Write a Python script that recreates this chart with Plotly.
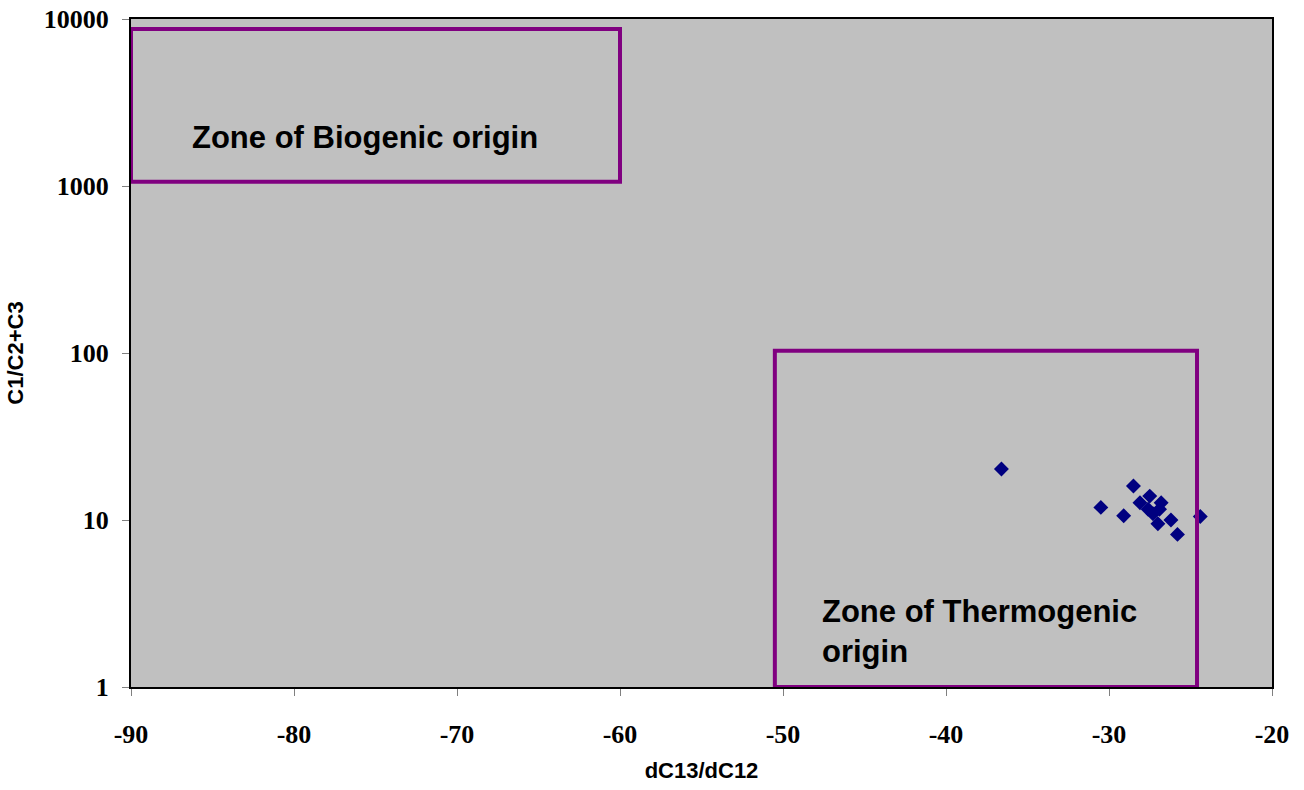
import plotly.graph_objects as go

# Data points (dC13/dC12 vs C1/C2+C3)
x_vals = [-36.6, -28.5, -30.5, -29.1, -28.1, -27.5, -27.6, -27.3, -26.8, -26.9, -27.0, -26.2, -25.8, -24.4]
y_vals = [20.2, 16.0, 11.9, 10.6, 12.7, 13.9, 11.6, 10.9, 12.7, 11.6, 9.5, 10.0, 8.2, 10.5]

x_ticks = [-90, -80, -70, -60, -50, -40, -30, -20]
y_ticks = [1, 10, 100, 1000, 10000]
y_tick_text = ["1", "10", "100", "1000", "10000"]

# Zone boxes: (x0, x1, y0, y1)
bio_box = (-90, -60, 1060, 8700)
thermo_box = (-50.5, -24.6, 1, 103)

fig = go.Figure()
fig.add_trace(go.Scatter(
    x=x_vals, y=y_vals, mode="markers",
    marker=dict(symbol="diamond", size=11.5, color="#000080"),
    showlegend=False, cliponaxis=False,
))

for (x0, x1, y0, y1) in [bio_box, thermo_box]:
    fig.add_shape(type="rect", x0=x0, x1=x1, y0=y0, y1=y1, xref="x", yref="y",
                  line=dict(color="#800080", width=4), layer="above")

fig.add_annotation(x=-86.4, y=3.29, xref="x", yref="y", text="Zone of Biogenic origin",
                   showarrow=False, xanchor="left", yanchor="middle",
                   font=dict(family="Liberation Sans, Arial", size=31, color="black", weight="bold"))
fig.add_annotation(x=-47.75, y=0.33, xref="x", yref="y", text="Zone of Thermogenic<br>origin",
                   showarrow=False, xanchor="left", yanchor="middle", align="left",
                   font=dict(family="Liberation Sans, Arial", size=31, color="black", weight="bold"))

fig.update_layout(
    width=1304, height=790,
    margin=dict(l=131, r=32, t=19, b=103),
    paper_bgcolor="white", plot_bgcolor="#c0c0c0",
    showlegend=False,
)
fig.update_xaxes(
    range=[-90, -20], tickvals=x_ticks, ticktext=[str(v) for v in x_ticks],
    showgrid=False, zeroline=False, automargin=False,
    showline=True, linecolor="black", linewidth=2, mirror=True,
    ticks="outside", ticklen=7, tickcolor="#808080", tickwidth=1,
    ticklabelstandoff=16,
    tickfont=dict(family="Liberation Serif, Times New Roman", size=26, color="black", weight="bold"),
    title=dict(text="dC13/dC12", standoff=14,
               font=dict(family="Liberation Sans, Arial", size=22, color="black", weight="bold")),
)
fig.update_yaxes(
    type="log", range=[0, 4], tickvals=y_ticks, ticktext=y_tick_text,
    showgrid=False, zeroline=False, automargin=False,
    showline=True, linecolor="black", linewidth=2, mirror=True,
    ticks="outside", ticklen=7, tickcolor="#808080", tickwidth=1,
    ticklabelstandoff=8,
    tickfont=dict(family="Liberation Serif, Times New Roman", size=26, color="black", weight="bold"),
    title=dict(text="C1/C2+C3", standoff=14,
               font=dict(family="Liberation Sans, Arial", size=22, color="black", weight="bold")),
)

fig.write_html("out.html")
